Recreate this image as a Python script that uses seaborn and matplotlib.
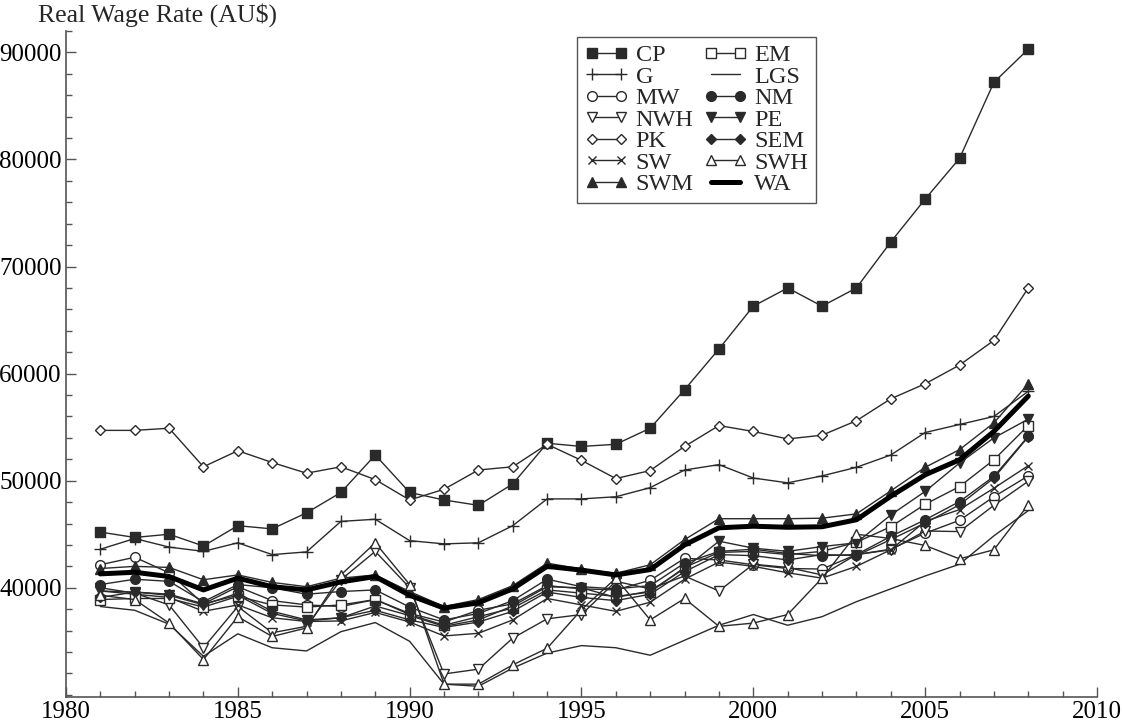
import numpy as np
import pandas as pd
import seaborn as sns
import matplotlib.pyplot as plt
from matplotlib.ticker import MultipleLocator, FixedLocator

# years on the x axis
years = list(range(1981, 2009))

# real wage rate per region (AU$)
CP = [45200, 44700, 45000, 43900, 45800, 45500, 47000, 48900, 52400, 48900, 48200, 47700, 49700, 53500,
      53200, 53400, 54900, 58500, 62300, 66300, 68000, 66300, 68000, 72300, 76300, 80100, 87200, 90300]
EM = [38900, 39000, 39000, 38200, 39200, 38400, 38200, 38400, 38900, 37500, 36500, 37300, 38100, 39800,
      39500, 39200, 39600, 41900, 43300, 43400, 43100, 43400, 44250, 45700, 47800, 49450, 51950, 55150]
G = [43600, 44600, 43800, 43400, 44200, 43100, 43350, 46200, 46400, 44400, 44100, 44200, 45800, 48300,
     48300, 48500, 49350, 51000, 51500, 50250, 49800, 50450, 51250, 52400, 54500, 55250, 56000, 58350]
LGS = [38250, 37900, 36600, 33600, 35700, 34400, 34100, 35900, 36750, 35000, 31000, 30800, 32500, 33900,
       34600, 34400, 33700, 35100, 36500, 37500, 36500, 37300, 38700, 39900, 41100, 42200, 44850, 47200]
MW = [42150, 42850, 41400, 38500, 40100, 38800, 38400, 38250, 38900, 37600, 36800, 37900, 38500, 40200,
      39900, 39800, 40700, 42750, 42600, 42150, 41800, 41750, 43100, 43600, 45100, 46300, 48500, 50450]
NM = [40300, 40800, 40600, 38700, 40300, 40000, 39400, 39650, 39800, 38200, 37000, 37600, 38800, 40800,
      40100, 39900, 40200, 42300, 43400, 43600, 43200, 43000, 43100, 44800, 46350, 48050, 50400, 54150]
NWH = [40000, 39500, 38400, 34400, 38250, 35800, 36400, 40750, 43400, 40000, 31950, 32400, 35300, 37100,
       37500, 40600, 39900, 41100, 39700, 42200, 41900, 41200, 43100, 43550, 45300, 45250, 47700, 49950]
PE = [39700, 39600, 39300, 38400, 39500, 37800, 37000, 37200, 38300, 37400, 36400, 37000, 38300, 40100,
      40000, 39100, 39700, 41800, 44350, 43700, 43400, 43850, 44200, 46800, 49000, 51650, 54000, 55750]
PK = [54700, 54700, 54900, 51300, 52800, 51700, 50700, 51300, 50100, 48200, 49200, 51000, 51300, 53400,
      51900, 50200, 50950, 53200, 55150, 54600, 53900, 54250, 55600, 57650, 59050, 60800, 63100, 68000]
SEM = [39100, 39600, 39400, 38500, 39300, 37600, 36900, 37200, 37900, 37000, 36300, 36800, 37800, 39600,
       39100, 38800, 39400, 41500, 43100, 43000, 42600, 43100, 43000, 44500, 46050, 47750, 50250, 54100]
SW = [39700, 39400, 39100, 37800, 38400, 37200, 36850, 36900, 37700, 36800, 35500, 35750, 37000, 39000,
      38400, 37800, 38650, 40800, 42400, 42000, 41400, 40900, 42000, 43550, 46200, 47300, 49300, 51400]
SWH = [39300, 38900, 36700, 33300, 37300, 35450, 36250, 41200, 44200, 40300, 31000, 31000, 32800, 34350,
       37950, 40900, 37000, 39000, 36400, 36700, 37500, 40900, 45000, 44600, 43950, 42700, 43550, 47750]
SWM = [41800, 42000, 41900, 40750, 41200, 40500, 40100, 40900, 41200, 39650, 38250, 38900, 40200, 42300,
       41750, 41350, 42150, 44500, 46450, 46450, 46450, 46500, 46900, 49050, 51250, 52900, 55400, 59050]
WA = [41300, 41450, 41050, 39800, 40900, 40100, 39800, 40550, 41050, 39300, 38100, 38600, 39900, 42000,
      41650, 41200, 41700, 44000, 45600, 45750, 45650, 45700, 46350, 48550, 50550, 51950, 54600, 57900]

# legend order (matplotlib fills columns first)
order = ["CP", "G", "MW", "NWH", "PK", "SW", "SWM",
         "EM", "LGS", "NM", "PE", "SEM", "SWH", "WA"]
series = {"CP": CP, "EM": EM, "G": G, "LGS": LGS, "MW": MW, "NM": NM, "NWH": NWH,
          "PE": PE, "PK": PK, "SEM": SEM, "SW": SW, "SWH": SWH, "SWM": SWM, "WA": WA}

# marker, filled?, marker size
styles = {"CP": ("s", True, 7), "EM": ("s", False, 7), "G": ("+", True, 8), "LGS": (None, True, 0),
          "MW": ("o", False, 7), "NM": ("o", True, 7), "NWH": ("v", False, 7), "PE": ("v", True, 7),
          "PK": ("D", False, 5), "SEM": ("D", True, 5), "SW": ("x", True, 6), "SWH": ("^", False, 7),
          "SWM": ("^", True, 7), "WA": (None, True, 0)}

df = pd.DataFrame({"year": years, **series})

sns.set_theme(style="ticks")
plt.rcParams["font.family"] = ["Liberation Serif", "DejaVu Serif"]

fig = plt.figure(figsize=(11.22, 7.24), dpi=100)
ax = fig.add_axes([0.0588, 0.0373, 0.9189, 0.9199])

line_col = "#2a2a2a"
for name in order:
    mk, filled, ms = styles[name]
    if name == "WA":
        sns.lineplot(data=df, x="year", y=name, ax=ax, color="black", linewidth=3.6,
                     label=name, zorder=3)
    elif mk is None:
        sns.lineplot(data=df, x="year", y=name, ax=ax, color=line_col, linewidth=1.0,
                     label=name)
    else:
        sns.lineplot(data=df, x="year", y=name, ax=ax, color=line_col, linewidth=1.0,
                     marker=mk, markersize=ms, markeredgecolor=line_col, markeredgewidth=1.0,
                     markerfacecolor=line_col if filled else "white", label=name)

ax.set_xlim(1980, 2010)
ax.set_ylim(29800, 92000)
ax.xaxis.set_major_locator(MultipleLocator(5))
ax.xaxis.set_minor_locator(MultipleLocator(1))
ax.yaxis.set_major_locator(FixedLocator(range(40000, 90001, 10000)))
ax.yaxis.set_minor_locator(FixedLocator(range(30000, 92001, 2000)))
ax.tick_params(which="both", direction="in", colors="#555555", labelcolor="black", labelsize=18)
ax.tick_params(which="major", length=7, width=1, pad=3)
ax.tick_params(which="minor", length=4, width=1)
ax.set_xlabel("")
ax.set_ylabel("")
sns.despine(ax=ax)
for s in ["left", "bottom"]:
    ax.spines[s].set_color("#555555")
    ax.spines[s].set_linewidth(1.2)

fig.text(0.034, 0.996, "Real Wage Rate (AU\\$)", fontsize=18.5, va="top", ha="left")

leg = ax.legend(ncol=2, loc="upper left", bbox_to_anchor=(0.496, 0.991), fontsize=17.5,
                numpoints=2, handlelength=1.8, handletextpad=0.3, labelspacing=-0.02,
                columnspacing=0.4, borderpad=0.3, fancybox=False, framealpha=1,
                edgecolor="#555555", borderaxespad=0)
leg.get_frame().set_linewidth(1.0)

fig.savefig("out.png", dpi=100)
